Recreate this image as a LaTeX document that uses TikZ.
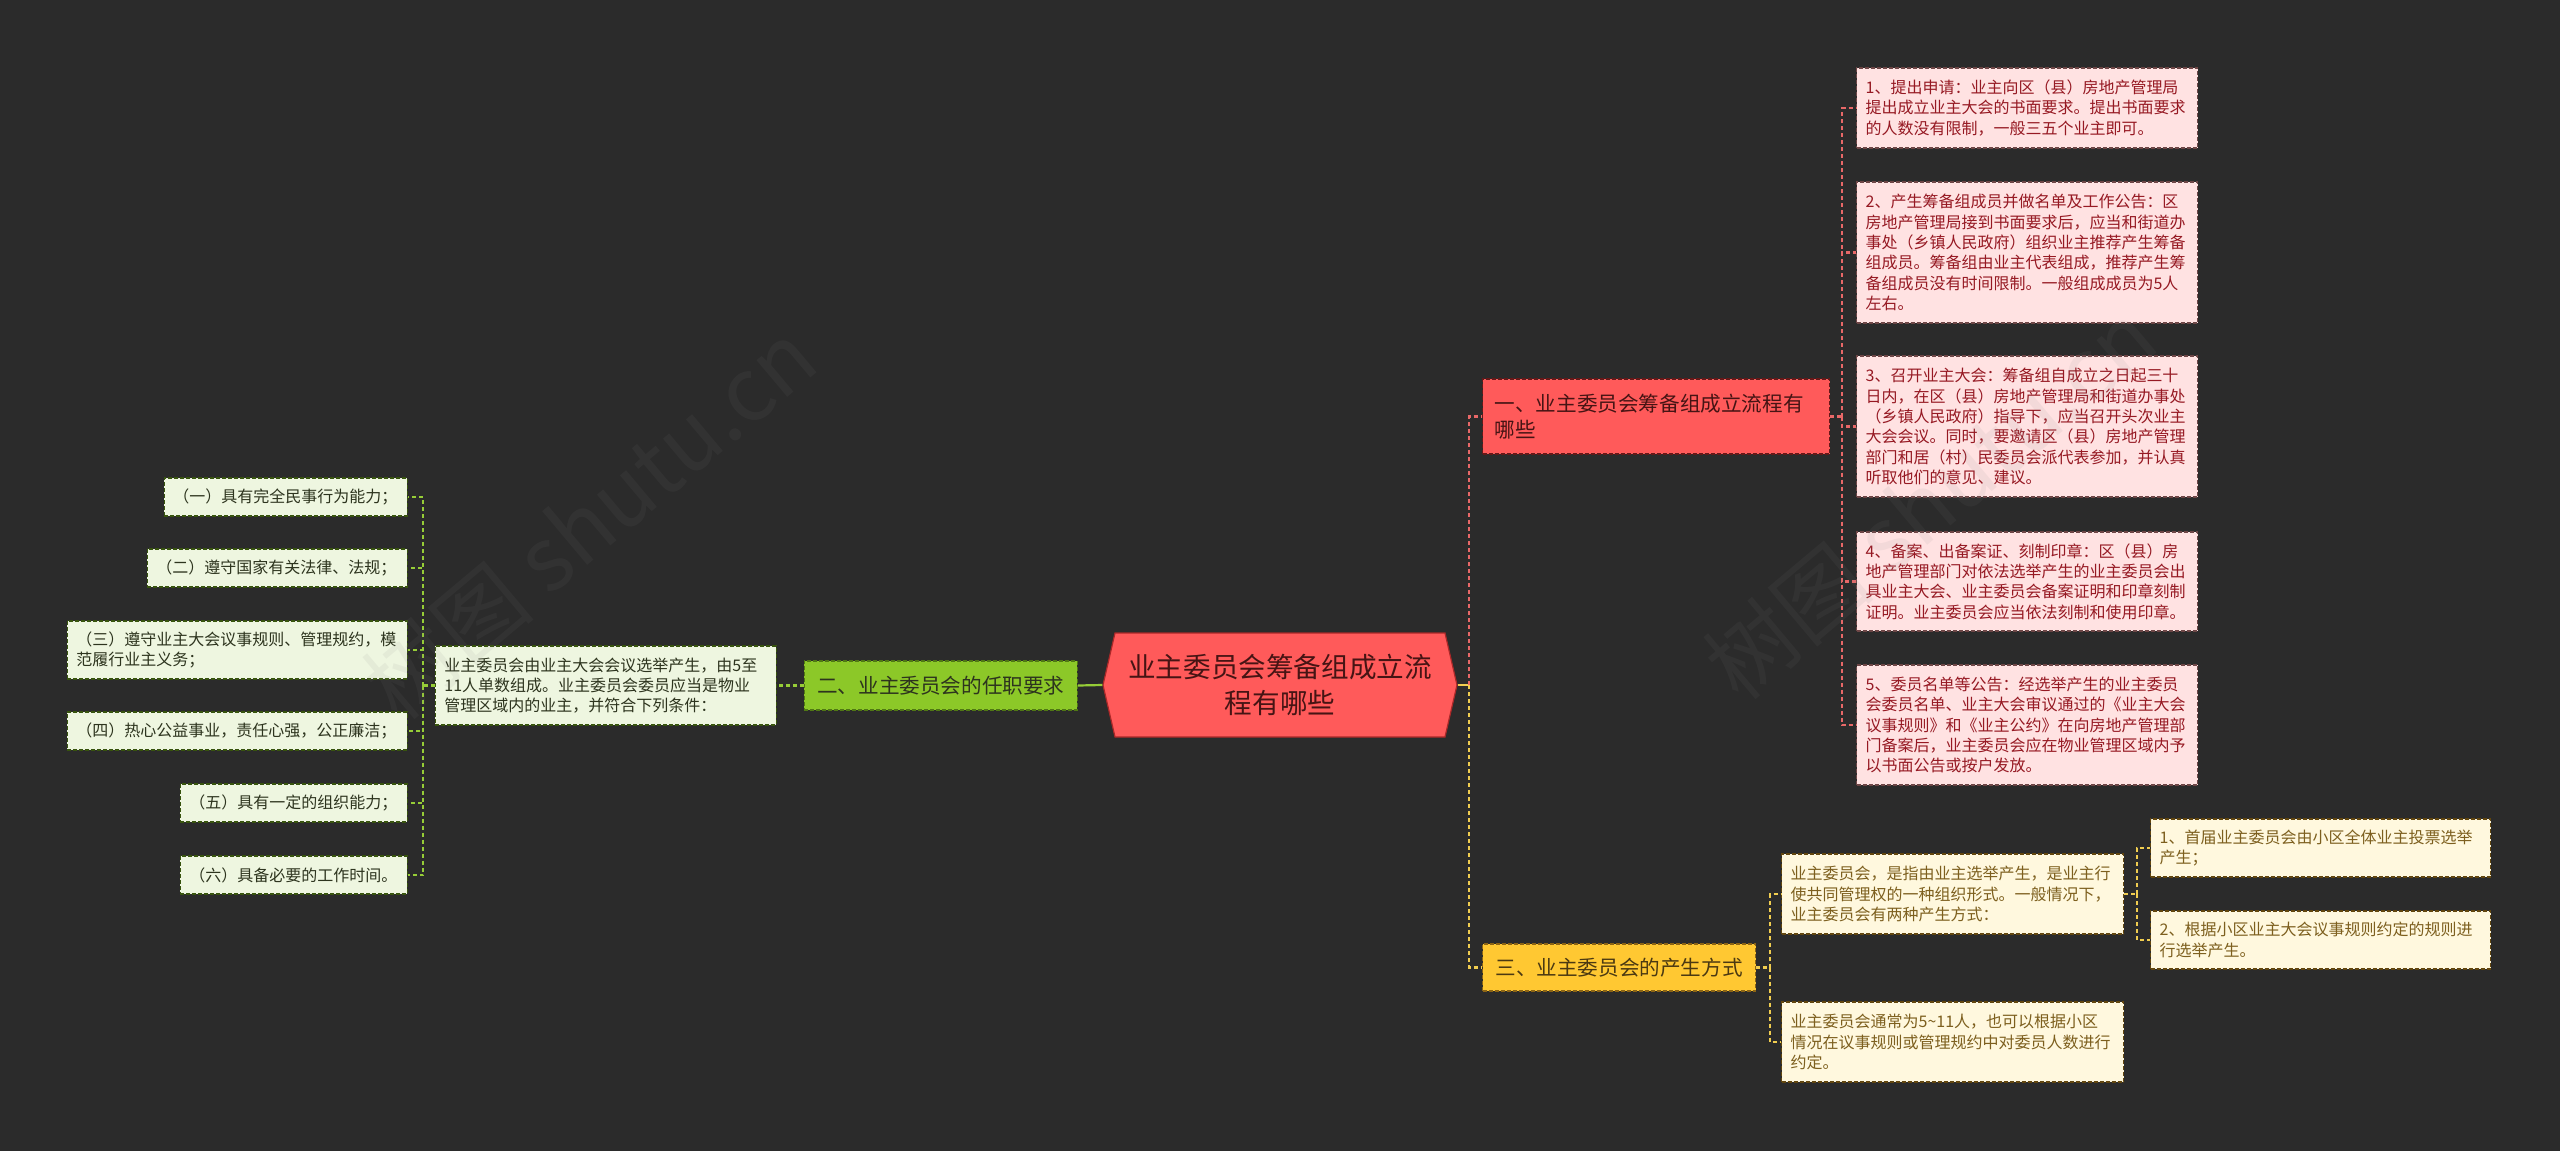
\documentclass[tikz,border=0pt]{standalone}
\usepackage{fontspec}
\setmainfont{Noto Sans CJK SC}
\usetikzlibrary{shapes.symbols}
\definecolor{bgdark}{RGB}{43,43,43}
\definecolor{mainfill}{RGB}{255,90,90}
\definecolor{mainedge}{RGB}{170,40,40}
\definecolor{maintext}{RGB}{70,20,20}
\definecolor{redleaf}{RGB}{255,226,226}
\definecolor{redtext}{RGB}{150,25,35}
\definecolor{rededge}{RGB}{110,70,70}
\definecolor{redline}{RGB}{232,104,104}
\definecolor{grnfill}{RGB}{140,200,40}
\definecolor{grnedge}{RGB}{80,120,20}
\definecolor{grnleaf}{RGB}{238,246,224}
\definecolor{grntext}{RGB}{45,52,30}
\definecolor{grnline}{RGB}{150,205,55}
\definecolor{ylwfill}{RGB}{255,200,50}
\definecolor{ylwedge}{RGB}{140,100,20}
\definecolor{ylwleaf}{RGB}{255,248,222}
\definecolor{ylwtext}{RGB}{125,95,30}
\definecolor{ylwline}{RGB}{240,205,80}
\definecolor{wmark}{RGB}{128,128,128}
\begin{document}
\begin{tikzpicture}[x=0.5pt,y=-0.5pt,
    box/.style={draw, dash pattern=on 2pt off 1pt, line width=0.6pt, align=left,
      inner xsep=4.5pt, inner ysep=0pt, font=\fontsize{8}{10.15}\selectfont},
    redbox/.style={box, fill=redleaf, draw=rededge, text=redtext},
    grnbox/.style={box, fill=grnleaf, draw=grnedge!70!black, text=grntext},
    ylwbox/.style={box, fill=ylwleaf, draw=ylwedge!70!black, text=ylwtext},
    branch/.style={draw, dash pattern=on 2pt off 1pt, line width=0.6pt,
      inner xsep=6pt, inner ysep=0pt, font=\fontsize{10.3}{13.3}\selectfont},
    rline/.style={draw=redline, line width=1.1pt, dash pattern=on 2pt off 1.5pt},
    gline/.style={draw=grnline, line width=1.1pt, dash pattern=on 2pt off 1.5pt},
    yline/.style={draw=ylwline, line width=1.1pt, dash pattern=on 2pt off 1.5pt},
    wm/.style={text=wmark, opacity=0.09, font=\fontsize{44}{44}\selectfont, rotate=40}]
\useasboundingbox (0,0) rectangle (2560,1151);
\fill[bgdark] (0,0) rectangle (2560,1151);

% root
\node[signal, signal to=west and east, signal pointer angle=154, fill=mainfill,
  draw=mainedge, line width=0.6pt, minimum width=177pt, minimum height=52pt,
  align=center, text=maintext, font=\fontsize{13.8}{18.3}\selectfont]
  (root) at (1280,685) {业主委员会筹备组成立流\\程有哪些};

% branches
\node[branch, fill=mainfill, draw=mainedge!60!black, text=maintext, anchor=west,
  text width=161.5pt, align=left, minimum height=37.5pt]
  (setup) at (1482,416.5) {一、业主委员会筹备组成立流程有\\哪些};
\node[branch, fill=grnfill, draw=grnedge, text=grntext, anchor=east,
  minimum width=136.5pt, minimum height=24.5pt]
  (duty) at (1078,685.5) {二、业主委员会的任职要求};
\node[branch, fill=ylwfill, draw=ylwedge, text=ylwtext!60!black, anchor=west,
  minimum width=136.5pt, minimum height=23.5pt]
  (elect) at (1482,967.5) {三、业主委员会的产生方式};

% steps of branch one
\node[redbox, anchor=west, text width=161.5pt, minimum height=40pt] (stepa) at (1856,108)
  {1、提出申请：业主向区（县）房地产管理局\\提出成立业主大会的书面要求。提出书面要求\\的人数没有限制，一般三五个业主即可。};
\node[redbox, anchor=west, text width=161.5pt, minimum height=70.5pt] (stepb) at (1856,252.5)
  {2、产生筹备组成员并做名单及工作公告：区\\房地产管理局接到书面要求后，应当和街道办\\事处（乡镇人民政府）组织业主推荐产生筹备\\组成员。筹备组由业主代表组成，推荐产生筹\\备组成员没有时间限制。一般组成成员为5人\\左右。};
\node[redbox, anchor=west, text width=161.5pt, minimum height=70.5pt] (stepc) at (1856,426.5)
  {3、召开业主大会：筹备组自成立之日起三十\\日内，在区（县）房地产管理局和街道办事处\\（乡镇人民政府）指导下，应当召开头次业主\\大会会议。同时，要邀请区（县）房地产管理\\部门和居（村）民委员会派代表参加，并认真\\听取他们的意见、建议。};
\node[redbox, anchor=west, text width=161.5pt, minimum height=49.5pt] (stepd) at (1856,581.5)
  {4、备案、出备案证、刻制印章：区（县）房\\地产管理部门对依法选举产生的业主委员会出\\具业主大会、业主委员会备案证明和印章刻制\\证明。业主委员会应当依法刻制和使用印章。};
\node[redbox, anchor=west, text width=161.5pt, minimum height=60pt] (stepe) at (1856,725)
  {5、委员名单等公告：经选举产生的业主委员\\会委员名单、业主大会审议通过的《业主大会\\议事规则》和《业主公约》在向房地产管理部\\门备案后，业主委员会应在物业管理区域内予\\以书面公告或按户发放。};

% branch two
\node[grnbox, anchor=east, text width=161.5pt, minimum height=39.5pt] (rule) at (777,685.5)
  {业主委员会由业主大会会议选举产生，由5至\\11人单数组成。业主委员会委员应当是物业\\管理区域内的业主，并符合下列条件：};
\node[grnbox, anchor=east, text width=112.5pt, minimum height=19pt] (conda) at (408,497)
  {（一）具有完全民事行为能力；};
\node[grnbox, anchor=east, text width=121pt, minimum height=19pt] (condb) at (408,568)
  {（二）遵守国家有关法律、法规；};
\node[grnbox, anchor=east, text width=161pt, minimum height=29pt] (condc) at (408,650)
  {（三）遵守业主大会议事规则、管理规约，模\\范履行业主义务；};
\node[grnbox, anchor=east, text width=161pt, minimum height=19pt] (condd) at (408,731)
  {（四）热心公益事业，责任心强，公正廉洁；};
\node[grnbox, anchor=east, text width=104.5pt, minimum height=19pt] (conde) at (408,803)
  {（五）具有一定的组织能力；};
\node[grnbox, anchor=east, text width=104.5pt, minimum height=19pt] (condf) at (408,875)
  {（六）具备必要的工作时间。};

% branch three
\node[ylwbox, anchor=west, text width=162pt, minimum height=40pt] (kind) at (1781,894)
  {业主委员会，是指由业主选举产生，是业主行\\使共同管理权的一种组织形式。一般情况下，\\业主委员会有两种产生方式：};
\node[ylwbox, anchor=west, text width=162pt, minimum height=40pt] (size) at (1781,1042)
  {业主委员会通常为5\textasciitilde11人，也可以根据小区\\情况在议事规则或管理规约中对委员人数进行\\约定。};
\node[ylwbox, anchor=west, text width=161pt, minimum height=29pt] (waya) at (2150,848)
  {1、首届业主委员会由小区全体业主投票选举\\产生；};
\node[ylwbox, anchor=west, text width=161pt, minimum height=29pt] (wayb) at (2150,940)
  {2、根据小区业主大会议事规则约定的规则进\\行选举产生。};

% junctions
\coordinate (hubr) at (1469,685);
\coordinate (hubs) at (1842,416.5);
\coordinate (hubd) at (423,685.5);
\coordinate (hube) at (1770,967.5);
\coordinate (hubk) at (2137,894);

% connectors
\draw[draw=ylwline, line width=1.1pt] (root.east) -- (hubr);
\draw[rline] (hubr) |- (setup.west);
\draw[yline] (hubr) |- (elect.west);
\draw[draw=grnline, line width=1.1pt] (root.west) -- (duty.east);
\draw[rline] (setup.east) -- (hubs);
\foreach \n in {stepa,stepb,stepc,stepd,stepe}
  \draw[rline] (hubs) |- (\n.west);
\draw[gline] (duty.west) -- (rule.east);
\draw[gline] (rule.west) -- (hubd);
\foreach \n in {conda,condb,condc,condd,conde,condf}
  \draw[gline] (hubd) |- (\n.east);
\draw[yline] (elect.east) -- (hube);
\foreach \n in {kind,size}
  \draw[yline] (hube) |- (\n.west);
\draw[yline] (kind.east) -- (hubk);
\foreach \n in {waya,wayb}
  \draw[yline] (hubk) |- (\n.west);

% watermarks
\node[wm] (marka) at (590,520) {树图 shutu.cn};
\node[wm] (markb) at (1930,500) {树图 shutu.cn};
\end{tikzpicture}
\end{document}
